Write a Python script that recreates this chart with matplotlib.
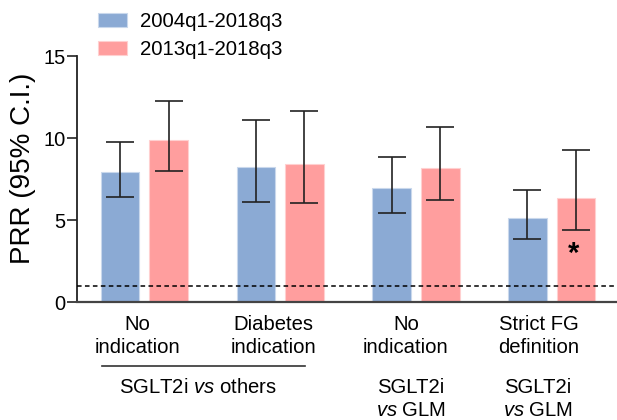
import matplotlib
matplotlib.use("Agg")
import matplotlib.pyplot as plt
import matplotlib.transforms as mtransforms
from matplotlib.patches import Patch
import numpy as np

plt.rcParams['font.family'] = ['Liberation Sans', 'DejaVu Sans']
plt.rcParams['mathtext.fontset'] = 'custom'
plt.rcParams['mathtext.rm'] = 'Liberation Sans'
plt.rcParams['mathtext.it'] = 'Liberation Sans:italic'

# ---- data ----
categories_line1 = ["No", "Diabetes", "No", "Strict FG"]
categories_line2 = ["indication", "indication", "indication", "definition"]
series_names = ["2004q1-2018q3", "2013q1-2018q3"]
prr_2004 = [7.9, 8.25, 6.95, 5.1]
lo_2004 = [6.4, 6.1, 5.45, 3.85]
hi_2004 = [9.75, 11.1, 8.85, 6.8]
prr_2013 = [9.9, 8.4, 8.2, 6.35]
lo_2013 = [8.0, 6.05, 6.25, 4.4]
hi_2013 = [12.25, 11.65, 10.7, 9.25]
reference_line = 1.0
y_ticks = [0, 5, 10, 15]
significant = [False, False, False, True]

blue = "#8BAAD4"
pink = "#FF9E9E"
blue_edge = "#C9D8EC"
pink_edge = "#FFD0D0"
dark = "#222222"

W, H = 617, 420
fig = plt.figure(figsize=(W / 100, H / 100), dpi=100)
ax = fig.add_axes([76.7 / W, 1 - 302 / H, 1 - 76.7 / W, (302 - 56) / H])

x = np.arange(len(prr_2004))
off = 0.179
bw = 0.283

for vals, lo, hi, col, ec, sgn in [(prr_2004, lo_2004, hi_2004, blue, blue_edge, -1),
                                   (prr_2013, lo_2013, hi_2013, pink, pink_edge, 1)]:
    xs = x + sgn * off
    vals = np.array(vals)
    err = np.vstack([vals - np.array(lo), np.array(hi) - vals])
    ax.bar(xs, vals, width=bw, color=col, edgecolor=ec, linewidth=0.8, zorder=2)
    ax.errorbar(xs, vals, yerr=err, fmt='none', ecolor=dark, elinewidth=1.2,
                capsize=10, capthick=1.2, zorder=3)

ax.axhline(reference_line, color='black', lw=1.1, ls=(0, (3, 2.2)), zorder=4)

star_y = 2.45
for i, s in enumerate(significant):
    if s:
        ax.text(x[i] + off - 0.02, star_y, "*", ha='center', va='baseline',
                fontsize=21, fontweight='bold', color='black')

ax.set_xlim(-0.498, 3.48)
ax.set_ylim(0, 15)
ax.set_yticks(y_ticks)
ax.set_yticklabels([str(t) for t in y_ticks], fontsize=14.5)
ax.set_xticks([])
ax.tick_params(axis='y', length=7, width=1.2, color=dark, pad=1)
for sp in ['top', 'right']:
    ax.spines[sp].set_visible(False)
ax.spines['left'].set_color(dark)
ax.spines['left'].set_linewidth(1.3)
ax.spines['bottom'].set_color('#444444')
ax.spines['bottom'].set_linewidth(1.6)

fig.text(23 / W, 1 - 168.5 / H, "PRR (95% C.I.)", rotation=90, ha='center', va='center',
         fontsize=20)

tr = mtransforms.blended_transform_factory(ax.transData, fig.transFigure)
label_shift = [-0.05, -0.05, -0.074, -0.096]
fs = 14.6
for i in range(len(x)):
    ax.text(x[i] + label_shift[i], 1 - 330 / H, categories_line1[i], transform=tr,
            ha='center', va='baseline', fontsize=fs, clip_on=False)
    ax.text(x[i] + label_shift[i], 1 - 353 / H, categories_line2[i], transform=tr,
            ha='center', va='baseline', fontsize=fs, clip_on=False)

ax.plot([-0.311, 1.183], [1 - 366 / H] * 2, transform=tr, color='#333333', lw=1.2,
        clip_on=False)
ax.text(0.392, 1 - 393 / H, r"SGLT2i $\mathit{vs}$ others", transform=tr, ha='center',
        va='baseline', fontsize=fs, clip_on=False)
for xc in [1.962, 2.895]:
    ax.text(xc, 1 - 393 / H, "SGLT2i", transform=tr, ha='center', va='baseline',
            fontsize=fs, clip_on=False)
    ax.text(xc, 1 - 416 / H, r"$\mathit{vs}$ GLM", transform=tr, ha='center',
            va='baseline', fontsize=fs, clip_on=False)

handles = [Patch(facecolor=blue, edgecolor=blue_edge, lw=0.8),
           Patch(facecolor=pink, edgecolor=pink_edge, lw=0.8)]
fig.legend(handles, series_names, loc='upper left', bbox_to_anchor=(98 / W, 1 - 12 / H),
           frameon=False, fontsize=14.7, handlelength=1.4, handleheight=0.7,
           handletextpad=0.68, labelspacing=0.45, borderpad=0, borderaxespad=0)

fig.savefig("out.png", dpi=100)
